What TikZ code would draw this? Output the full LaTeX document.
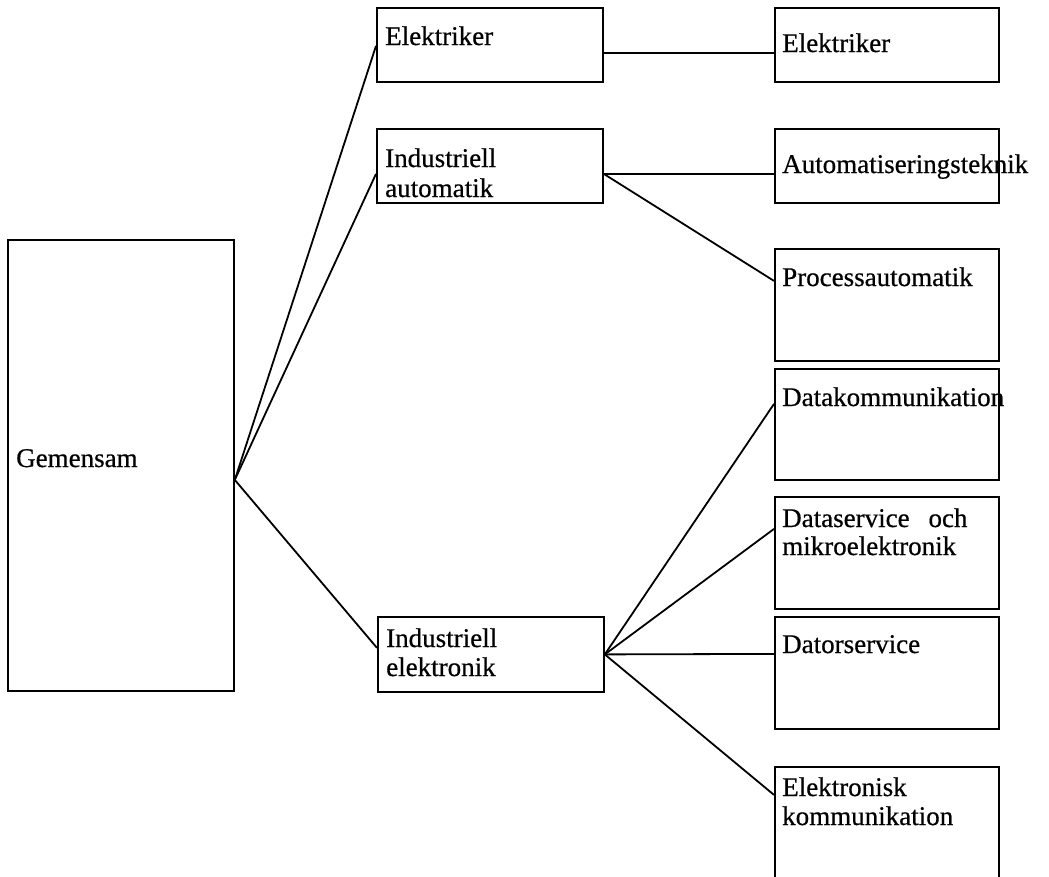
\documentclass[tikz,border=0pt]{standalone}
\usepackage{fontspec}
\setmainfont{Liberation Serif}
\newfontfamily\inkfont{Liberation Serif}[FakeBold=0.6]
\tikzset{
  box/.style={draw, line width=1.8pt, inner sep=0pt, anchor=north west},
  lbl/.style={anchor=base west, inner sep=0pt, font=\inkfont\fontsize{27}{29}\selectfont},
  link/.style={line width=1.8pt}
}
\begin{document}
\begin{tikzpicture}[x=1pt,y=-1pt]
\useasboundingbox (0,0) rectangle (1049,876);
\clip (0,0) rectangle (1049,876);
% left
\node[box, minimum width=226pt, minimum height=451pt] (G) at (7,239) {};
\node[lbl] (tG) at (16,467) {Gemensam};
% middle column
\node[box, minimum width=226pt, minimum height=74pt] (E1) at (376,7) {};
\node[lbl] (tE1) at (385,45) {Elektriker};
\node[box, minimum width=226pt, minimum height=74pt] (A1) at (376,128) {};
\node[lbl] (tA1a) at (385,167) {Industriell};
\node[lbl] (tA1b) at (385,197) {automatik};
\node[box, minimum width=226pt, minimum height=75pt] (IE) at (377,616) {};
\node[lbl] (tIEa) at (386,647) {Industriell};
\node[lbl] (tIEb) at (386,676) {elektronik};
% right column
\node[box, minimum width=224pt, minimum height=74pt] (E2) at (774,7) {};
\node[lbl] (tE2) at (782,52) {Elektriker};
\node[box, minimum width=224pt, minimum height=74pt] (A2) at (774,128) {};
\node[lbl] (tA2) at (782,173) {Automatiseringsteknik};
\node[box, minimum width=224pt, minimum height=112pt] (P) at (774,248) {};
\node[lbl] (tP) at (782,286) {Processautomatik};
\node[box, minimum width=224pt, minimum height=111pt] (D1) at (774,368) {};
\node[lbl] (tD1) at (782,406) {Datakommunikation};
\node[box, minimum width=224pt, minimum height=112pt] (D2) at (774,496) {};
\node[lbl] (tD2a) at (782,527) {Dataservice\hspace{0.45em} och};
\node[lbl] (tD2b) at (782,555) {mikroelektronik};
\node[box, minimum width=224pt, minimum height=112pt] (D3) at (774,616) {};
\node[lbl] (tD3) at (782,653) {Datorservice};
\node[box, minimum width=224pt, minimum height=112pt] (EK) at (774,766) {};
\node[lbl] (tEKa) at (782,796) {Elektronisk};
\node[lbl] (tEKb) at (782,825) {kommunikation};
% connectors
\coordinate (gp) at ([yshift=-14.5pt]G.east);
\draw[link] (gp) -- ([yshift=-1pt]E1.west);
\draw[link] (gp) -- ([yshift=-8pt]A1.west);
\draw[link] (gp) -- ([yshift=6.5pt]IE.west);
\draw[link] ([yshift=-8pt]E1.east) -- ([yshift=-8pt]E2.west);
\draw[link] ([yshift=-8pt]A1.east) -- ([yshift=-8pt]A2.west);
\draw[link] ([yshift=-8pt]A1.east) -- ([yshift=24pt]P.west);
\draw[link] (IE.east) -- ([yshift=20.5pt]D1.west);
\draw[link] (IE.east) -- ([yshift=24pt]D2.west);
\draw[link] (IE.east) -- ([yshift=19pt]D3.west);
\draw[link] (IE.east) -- ([yshift=28pt]EK.west);
\end{tikzpicture}
\end{document}
